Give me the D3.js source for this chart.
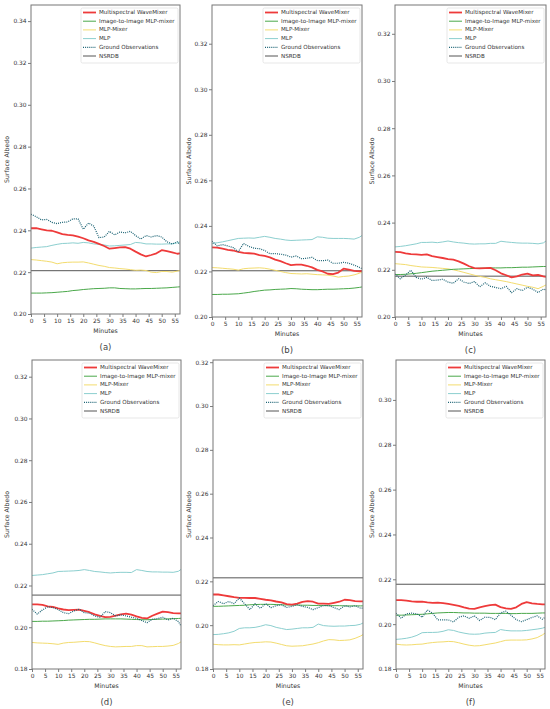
<!DOCTYPE html>
<html><head><meta charset="utf-8">
<script src="https://cdn.jsdelivr.net/npm/d3@7/dist/d3.min.js"></script>
<style>
html,body{margin:0;padding:0;background:#fff;}
svg{display:block;font-family:"DejaVu Sans",sans-serif;}
</style></head>
<body><svg id="chart" width="550" height="709"></svg>
<script>
// ---- shared categories ----
const MINUTES = [0,2,4,6,8,10,12,14,16,18,20,22,24,26,28,30,32,34,36,38,40,42,44,46,48,50,52,54,56,57];
const SERIES_NAMES = ["Multispectral WaveMixer","Image-to-Image MLP-mixer","MLP-Mixer","MLP","Ground Observations","NSRDB"];
const X_TICKS = [0,5,10,15,20,25,30,35,40,45,50,55];
const PANEL_LABELS = ["(a)","(b)","(c)","(d)","(e)","(f)"];
const Y_TICKS_A = [0.20,0.22,0.24,0.26,0.28,0.30,0.32,0.34];
const Y_TICKS_BC = [0.20,0.22,0.24,0.26,0.28,0.30,0.32];
const Y_TICKS_DE = [0.18,0.20,0.22,0.24,0.26,0.28,0.30,0.32];
const Y_TICKS_F = [0.18,0.20,0.22,0.24,0.26,0.28,0.30];

// ---- panel (a) ----
const a_waveMixer = [0.2410,0.2410,0.2405,0.2400,0.2398,0.2390,0.2382,0.2378,0.2376,0.2370,0.2362,0.2352,0.2345,0.2335,0.2325,0.2312,0.2315,0.2318,0.2320,0.2312,0.2298,0.2285,0.2275,0.2282,0.2290,0.2305,0.2300,0.2295,0.2288,0.2290];
const a_img2img = [0.2100,0.2100,0.2100,0.2101,0.2102,0.2104,0.2106,0.2108,0.2112,0.2114,0.2117,0.2119,0.2121,0.2122,0.2123,0.2125,0.2125,0.2122,0.2121,0.2120,0.2120,0.2121,0.2122,0.2122,0.2123,0.2124,0.2125,0.2127,0.2129,0.2130];
const a_mlpMixer = [0.2260,0.2258,0.2255,0.2252,0.2248,0.2240,0.2245,0.2247,0.2248,0.2248,0.2249,0.2244,0.2238,0.2232,0.2228,0.2222,0.2220,0.2217,0.2215,0.2212,0.2209,0.2210,0.2208,0.2200,0.2198,0.2203,0.2203,0.2200,0.2205,0.2208];
const a_mlp = [0.2315,0.2318,0.2320,0.2322,0.2328,0.2333,0.2337,0.2338,0.2340,0.2338,0.2342,0.2340,0.2335,0.2333,0.2330,0.2325,0.2326,0.2328,0.2330,0.2332,0.2342,0.2340,0.2335,0.2335,0.2334,0.2334,0.2335,0.2335,0.2340,0.2345];
const a_ground = [0.2477,0.2465,0.2450,0.2452,0.2438,0.2432,0.2438,0.2440,0.2455,0.2455,0.2405,0.2435,0.2420,0.2365,0.2368,0.2395,0.2378,0.2392,0.2388,0.2395,0.2375,0.2358,0.2375,0.2368,0.2375,0.2368,0.2345,0.2335,0.2345,0.2332];
const a_nsrdb = 0.2207;

// ---- panel (b) ----
const b_waveMixer = [0.2306,0.2305,0.2300,0.2295,0.2292,0.2286,0.2282,0.2280,0.2278,0.2272,0.2268,0.2262,0.2252,0.2245,0.2236,0.2228,0.2230,0.2230,0.2225,0.2218,0.2207,0.2200,0.2190,0.2188,0.2195,0.2212,0.2208,0.2203,0.2200,0.2203];
const b_img2img = [0.2099,0.2099,0.2100,0.2100,0.2101,0.2102,0.2105,0.2108,0.2112,0.2115,0.2118,0.2119,0.2121,0.2122,0.2123,0.2125,0.2124,0.2122,0.2121,0.2120,0.2120,0.2121,0.2122,0.2122,0.2123,0.2124,0.2125,0.2127,0.2130,0.2132];
const b_mlpMixer = [0.2217,0.2216,0.2214,0.2212,0.2210,0.2206,0.2212,0.2214,0.2215,0.2216,0.2214,0.2210,0.2205,0.2200,0.2195,0.2191,0.2190,0.2189,0.2190,0.2188,0.2186,0.2185,0.2184,0.2180,0.2175,0.2178,0.2180,0.2185,0.2192,0.2197];
const b_mlp = [0.2323,0.2326,0.2330,0.2335,0.2340,0.2345,0.2346,0.2347,0.2346,0.2350,0.2354,0.2350,0.2345,0.2342,0.2338,0.2336,0.2337,0.2338,0.2339,0.2340,0.2352,0.2350,0.2346,0.2345,0.2345,0.2345,0.2344,0.2342,0.2350,0.2358];
const b_ground = [0.2333,0.2312,0.2318,0.2312,0.2305,0.2287,0.2323,0.2310,0.2302,0.2300,0.2292,0.2278,0.2278,0.2276,0.2272,0.2263,0.2268,0.2256,0.2258,0.2262,0.2248,0.2247,0.2250,0.2236,0.2236,0.2240,0.2236,0.2228,0.2218,0.2212];
const b_nsrdb = 0.2203;

// ---- panel (c) ----
const c_waveMixer = [0.2276,0.2275,0.2270,0.2266,0.2265,0.2263,0.2265,0.2258,0.2254,0.2250,0.2245,0.2243,0.2236,0.2226,0.2215,0.2207,0.2206,0.2207,0.2208,0.2198,0.2185,0.2177,0.2168,0.2172,0.2180,0.2184,0.2176,0.2178,0.2172,0.2170];
const c_img2img = [0.2180,0.2180,0.2181,0.2183,0.2185,0.2188,0.2191,0.2194,0.2196,0.2198,0.2200,0.2202,0.2203,0.2204,0.2205,0.2206,0.2207,0.2207,0.2208,0.2208,0.2208,0.2209,0.2209,0.2210,0.2211,0.2211,0.2212,0.2213,0.2214,0.2214];
const c_mlpMixer = [0.2226,0.2224,0.2222,0.2218,0.2215,0.2212,0.2211,0.2210,0.2208,0.2206,0.2204,0.2200,0.2195,0.2189,0.2183,0.2177,0.2172,0.2168,0.2162,0.2158,0.2154,0.2150,0.2145,0.2140,0.2135,0.2130,0.2126,0.2120,0.2130,0.2136];
const c_mlp = [0.2297,0.2299,0.2302,0.2306,0.2310,0.2316,0.2316,0.2317,0.2315,0.2318,0.2322,0.2318,0.2315,0.2313,0.2310,0.2309,0.2310,0.2310,0.2312,0.2312,0.2321,0.2318,0.2316,0.2314,0.2313,0.2313,0.2312,0.2310,0.2314,0.2322];
const c_ground = [0.2182,0.2162,0.2178,0.2198,0.2168,0.2160,0.2168,0.2155,0.2156,0.2160,0.2148,0.2143,0.2162,0.2148,0.2142,0.2150,0.2128,0.2145,0.2130,0.2125,0.2120,0.2130,0.2103,0.2120,0.2112,0.2126,0.2118,0.2104,0.2118,0.2115];
const c_nsrdb = 0.2173;

// ---- panel (d) ----
const d_waveMixer = [0.2110,0.2110,0.2107,0.2100,0.2097,0.2090,0.2085,0.2082,0.2083,0.2084,0.2078,0.2072,0.2062,0.2054,0.2048,0.2050,0.2056,0.2062,0.2065,0.2060,0.2052,0.2045,0.2042,0.2055,0.2065,0.2075,0.2072,0.2068,0.2066,0.2066];
const d_img2img = [0.2028,0.2028,0.2029,0.2029,0.2030,0.2031,0.2032,0.2034,0.2035,0.2036,0.2037,0.2038,0.2038,0.2039,0.2040,0.2040,0.2040,0.2040,0.2039,0.2038,0.2037,0.2036,0.2036,0.2037,0.2038,0.2039,0.2040,0.2041,0.2042,0.2043];
const d_mlpMixer = [0.1927,0.1925,0.1924,0.1923,0.1921,0.1918,0.1924,0.1927,0.1928,0.1930,0.1932,0.1931,0.1925,0.1918,0.1912,0.1908,0.1906,0.1907,0.1908,0.1908,0.1912,0.1912,0.1906,0.1907,0.1908,0.1908,0.1910,0.1913,0.1922,0.1930];
const d_mlp = [0.2248,0.2250,0.2252,0.2256,0.2260,0.2267,0.2268,0.2269,0.2270,0.2272,0.2276,0.2272,0.2267,0.2265,0.2262,0.2260,0.2262,0.2263,0.2263,0.2262,0.2276,0.2272,0.2267,0.2265,0.2265,0.2264,0.2264,0.2263,0.2268,0.2277];
const d_ground = [0.2086,0.2063,0.2083,0.2098,0.2094,0.2085,0.2070,0.2065,0.2078,0.2086,0.2070,0.2067,0.2054,0.2048,0.2075,0.2070,0.2054,0.2059,0.2054,0.2048,0.2043,0.2032,0.2022,0.2038,0.2041,0.2048,0.2035,0.2043,0.2027,0.2006];
const d_nsrdb = 0.2154;

// ---- panel (e) ----
const e_waveMixer = [0.2140,0.2140,0.2136,0.2132,0.2128,0.2125,0.2125,0.2124,0.2124,0.2120,0.2116,0.2113,0.2108,0.2104,0.2096,0.2094,0.2098,0.2106,0.2110,0.2107,0.2098,0.2098,0.2097,0.2102,0.2107,0.2116,0.2114,0.2110,0.2109,0.2109];
const e_img2img = [0.2086,0.2086,0.2087,0.2088,0.2089,0.2090,0.2091,0.2093,0.2094,0.2095,0.2095,0.2095,0.2094,0.2093,0.2092,0.2092,0.2092,0.2091,0.2091,0.2090,0.2090,0.2090,0.2089,0.2089,0.2089,0.2088,0.2088,0.2088,0.2088,0.2088];
const e_mlpMixer = [0.1913,0.1911,0.1910,0.1910,0.1911,0.1910,0.1914,0.1918,0.1921,0.1922,0.1924,0.1923,0.1918,0.1912,0.1906,0.1904,0.1905,0.1906,0.1910,0.1914,0.1920,0.1928,0.1934,0.1933,0.1930,0.1931,0.1933,0.1940,0.1950,0.1957];
const e_mlp = [0.1957,0.1958,0.1961,0.1965,0.1972,0.1985,0.1988,0.1988,0.1990,0.1995,0.2002,0.1998,0.1990,0.1985,0.1980,0.1982,0.1985,0.1988,0.1988,0.1990,0.2005,0.1998,0.1996,0.1995,0.1996,0.1996,0.1998,0.1999,0.2004,0.2010];
const e_ground = [0.2089,0.2108,0.2098,0.2108,0.2098,0.2124,0.2098,0.2071,0.2098,0.2077,0.2098,0.2080,0.2089,0.2093,0.2081,0.2086,0.2093,0.2086,0.2081,0.2071,0.2080,0.2089,0.2089,0.2080,0.2071,0.2089,0.2083,0.2089,0.2078,0.2078];
const e_nsrdb = 0.2216;

// ---- panel (f) ----
const f_waveMixer = [0.2107,0.2107,0.2105,0.2102,0.2100,0.2100,0.2097,0.2095,0.2096,0.2094,0.2090,0.2086,0.2082,0.2075,0.2069,0.2068,0.2075,0.2080,0.2085,0.2087,0.2076,0.2070,0.2068,0.2075,0.2090,0.2098,0.2093,0.2090,0.2088,0.2088];
const f_img2img = [0.2040,0.2040,0.2041,0.2042,0.2043,0.2044,0.2046,0.2048,0.2050,0.2051,0.2052,0.2052,0.2051,0.2050,0.2050,0.2049,0.2049,0.2049,0.2048,0.2048,0.2048,0.2048,0.2047,0.2047,0.2048,0.2048,0.2048,0.2049,0.2050,0.2050];
const f_mlpMixer = [0.1911,0.1908,0.1907,0.1908,0.1910,0.1911,0.1915,0.1918,0.1920,0.1921,0.1923,0.1922,0.1917,0.1911,0.1906,0.1903,0.1904,0.1908,0.1912,0.1916,0.1922,0.1928,0.1929,0.1929,0.1929,0.1930,0.1934,0.1940,0.1952,0.1960];
const f_mlp = [0.1932,0.1934,0.1937,0.1942,0.1950,0.1962,0.1963,0.1963,0.1964,0.1968,0.1975,0.1972,0.1965,0.1960,0.1956,0.1955,0.1956,0.1960,0.1962,0.1963,0.1976,0.1972,0.1970,0.1970,0.1970,0.1972,0.1975,0.1978,0.1982,0.1986];
const f_ground = [0.2049,0.2026,0.2046,0.2049,0.2046,0.2031,0.2063,0.2049,0.2019,0.2019,0.2019,0.2010,0.2031,0.2037,0.2026,0.2037,0.2016,0.2031,0.2030,0.2020,0.2050,0.2058,0.2040,0.2020,0.2011,0.2020,0.2030,0.2037,0.2022,0.2030];
const f_nsrdb = 0.2178;

// ---- styles (not data) ----
const STYLES = [
  {color:"#ee3a3a", width:1.8, dash:null},
  {color:"#4aa84a", width:1.0, dash:null},
  {color:"#f3dc6e", width:1.0, dash:null},
  {color:"#8ccfcf", width:1.0, dash:null},
  {color:"#1d6475", width:1.2, dash:"1,1.1"},
  {color:"#555555", width:1.0, dash:null}
];

// ---- layout (not data) ----
const panels = [
  {label:PANEL_LABELS[0], l:31,  r:180, t:5,   b:314, y0:0.20, y1:0.3477, ticks:Y_TICKS_A,  s:[a_waveMixer,a_img2img,a_mlpMixer,a_mlp,a_ground], n:a_nsrdb, ylx:7},
  {label:PANEL_LABELS[1], l:212, r:362, t:5,   b:317, y0:0.20, y1:0.3370, ticks:Y_TICKS_BC, s:[b_waveMixer,b_img2img,b_mlpMixer,b_mlp,b_ground], n:b_nsrdb, ylx:189},
  {label:PANEL_LABELS[2], l:395, r:546, t:5,   b:317, y0:0.20, y1:0.3322, ticks:Y_TICKS_BC, s:[c_waveMixer,c_img2img,c_mlpMixer,c_mlp,c_ground], n:c_nsrdb, ylx:372},
  {label:PANEL_LABELS[3], l:32,  r:181, t:360, b:669, y0:0.18, y1:0.3280, ticks:Y_TICKS_DE, s:[d_waveMixer,d_img2img,d_mlpMixer,d_mlp,d_ground], n:d_nsrdb, ylx:7},
  {label:PANEL_LABELS[4], l:213, r:363, t:360, b:669, y0:0.18, y1:0.3210, ticks:Y_TICKS_DE, s:[e_waveMixer,e_img2img,e_mlpMixer,e_mlp,e_ground], n:e_nsrdb, ylx:189},
  {label:PANEL_LABELS[5], l:396, r:545, t:360, b:669, y0:0.18, y1:0.3178, ticks:Y_TICKS_F,  s:[f_waveMixer,f_img2img,f_mlpMixer,f_mlp,f_ground], n:f_nsrdb, ylx:372}
];

const svg = d3.select("#chart");
const TEXT = "#333";

panels.forEach(p => {
  const x = d3.scaleLinear().domain([0, 57]).range([p.l, p.r]);
  const y = d3.scaleLinear().domain([p.y0, p.y1]).range([p.b, p.t]);
  const g = svg.append("g");

  const cid = "clip" + p.label.replace(/[()]/g,"");
  svg.append("clipPath").attr("id", cid).append("rect")
    .attr("x", p.l).attr("y", p.t).attr("width", p.r - p.l).attr("height", p.b - p.t);

  const plot = g.append("g").attr("clip-path", `url(#${cid})`);
  const line = d3.line().x((d,i) => x(MINUTES[i])).y(d => y(d));

  plot.append("line")
    .attr("x1", x(0)).attr("x2", x(57))
    .attr("y1", y(p.n)).attr("y2", y(p.n))
    .attr("stroke", STYLES[5].color).attr("stroke-width", STYLES[5].width);

  [3,2,1,0,4].forEach(k => {
    const st = STYLES[k];
    plot.append("path").datum(p.s[k])
      .attr("d", line)
      .attr("fill","none")
      .attr("stroke", st.color)
      .attr("stroke-width", st.width)
      .attr("stroke-dasharray", st.dash)
      .attr("stroke-linejoin","round");
  });

  const xAxis = d3.axisBottom(x).tickValues(X_TICKS).tickSize(3).tickPadding(1.5).tickFormat(d3.format("d"));
  const gx = g.append("g").attr("transform", `translate(0,${p.b})`).call(xAxis);
  const yAxis = d3.axisLeft(y).tickValues(p.ticks).tickSize(3).tickPadding(1.5).tickFormat(d3.format(".2f"));
  const gy = g.append("g").attr("transform", `translate(${p.l},0)`).call(yAxis);
  [gx, gy].forEach(ax => {
    ax.select(".domain").remove();
    ax.selectAll(".tick line").attr("stroke", "#444").attr("stroke-width", 0.7);
    ax.selectAll(".tick text").attr("fill", TEXT).style("font-size", "5.9px").style("font-family","DejaVu Sans");
  });

  g.append("rect").attr("x", p.l).attr("y", p.t).attr("width", p.r - p.l).attr("height", p.b - p.t)
    .attr("fill","none").attr("stroke","#777").attr("stroke-width",1);

  g.append("text").attr("x", (p.l + p.r)/2).attr("y", p.b + 19)
    .attr("text-anchor","middle").attr("fill",TEXT).style("font-size","6.2px").text("Minutes");
  g.append("text").attr("transform", `translate(${p.ylx},${(p.t + p.b)/2}) rotate(-90)`)
    .attr("text-anchor","middle").attr("dominant-baseline","middle").attr("fill",TEXT).style("font-size","6.2px").text("Surface Albedo");
  g.append("text").attr("x", (p.l + p.r)/2).attr("y", p.b + 36)
    .attr("text-anchor","middle").attr("fill","#444").style("font-size","8.5px").text(p.label);

  const lw = 97, lh = 55;
  const lx = p.r - lw - 2, ly = p.t + 3;
  const lg = g.append("g");
  lg.append("rect").attr("x", lx).attr("y", ly).attr("width", lw).attr("height", lh).attr("rx", 1.5)
    .attr("fill","#fff").attr("fill-opacity",0.85).attr("stroke","#ddd").attr("stroke-width",0.7);
  SERIES_NAMES.forEach((name, i) => {
    const yy = ly + 4.5 + i * 8.7;
    const st = STYLES[i];
    lg.append("line").attr("x1", lx + 2).attr("x2", lx + 15).attr("y1", yy).attr("y2", yy)
      .attr("stroke", st.color).attr("stroke-width", st.width).attr("stroke-dasharray", st.dash);
    lg.append("text").attr("x", lx + 18).attr("y", yy).attr("dominant-baseline","middle")
      .attr("fill", TEXT).style("font-size","5.6px").text(name);
  });
});
</script>
</body></html>
